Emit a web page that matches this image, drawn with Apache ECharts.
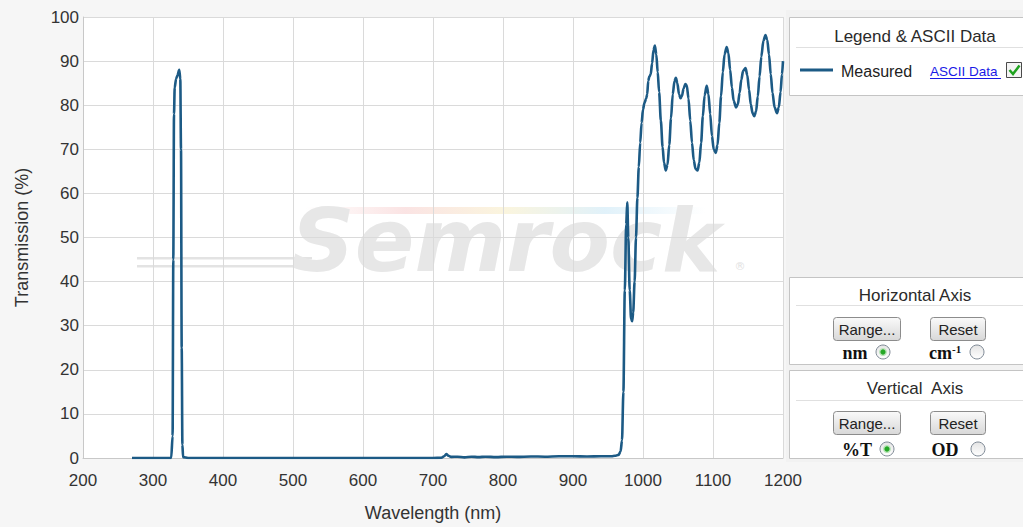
<!DOCTYPE html>
<html>
<head>
<meta charset="utf-8">
<script src="https://cdn.jsdelivr.net/npm/echarts@6/dist/echarts.min.js"></script>
<style>
html,body{margin:0;padding:0;background:#f6f6f6;}
#chart{width:1023px;height:527px;}
</style>
</head>
<body>
<div id="chart"></div>
<script>
// ---- data ----
const peakNm = [270, 300, 326, 328, 329, 330, 331, 333, 335, 337.5, 339, 340, 341, 342, 343, 350];
const peakT  = [0, 0, 0, 5, 45, 78, 84, 86, 86.8, 88, 86, 70, 25, 3, 0.2, 0];

const blockNm = [400, 500, 600, 700, 712, 716, 719, 722, 726, 735, 745, 755, 765, 775, 790, 805, 820, 840, 860, 880, 900, 920, 940, 955];
const blockT  = [0, 0, 0, 0, 0.05, 0.4, 0.9, 0.5, 0.25, 0.3, 0.15, 0.3, 0.2, 0.3, 0.2, 0.3, 0.25, 0.35, 0.3, 0.4, 0.4, 0.35, 0.4, 0.4];

const nirNm = [960, 965, 968, 970, 972, 974, 976, 977.5, 979, 981, 983, 984.5, 986, 988, 990, 992, 994, 996, 998, 1000, 1002, 1004.5, 1006, 1007.5, 1009, 1011, 1013, 1015, 1017, 1019, 1021, 1023, 1025.5, 1028, 1030, 1032.5, 1035, 1037.5, 1040, 1042.5, 1045, 1047, 1049, 1051.5, 1053.5, 1055.5, 1058, 1060.5, 1062.5, 1065, 1067.5, 1070, 1072.5, 1075, 1078, 1080.5, 1083, 1085.5, 1088, 1091, 1093.5, 1096, 1098.5, 1101, 1104, 1106.5, 1109, 1111.5, 1114, 1116.5, 1119.5, 1122, 1124.5, 1127, 1129.5, 1133, 1135.5, 1138, 1140.5, 1143, 1146.5, 1149, 1151.5, 1154, 1156.5, 1159, 1161.5, 1164, 1166.5, 1169, 1172, 1175, 1177.5, 1180, 1182.5, 1185, 1188, 1191.5, 1194, 1196.5, 1198.5, 1200];
const nirT  = [0.5, 0.7, 1.5, 4, 15, 38, 53, 58, 50, 38, 31.5, 31, 33, 40, 50, 59, 66, 71.5, 76, 79, 80.5, 81.5, 82.5, 85.5, 86.5, 87, 89.5, 92.5, 93.5, 91.5, 87.5, 83, 76.5, 70.5, 67, 65.2, 66.5, 71, 77, 82.5, 85.5, 86.2, 85, 82.5, 81.6, 82, 83.8, 84.8, 84.5, 81.5, 76.5, 71.5, 67.5, 65.6, 65.2, 67, 71.5, 77.5, 82.2, 84.4, 82.5, 78, 73, 70, 69.2, 71, 76, 82, 87.5, 91.5, 93.2, 91.8, 88, 84, 81, 79.5, 80.2, 82.8, 85.8, 87.8, 88.4, 86.8, 83.5, 80.2, 78.2, 77.5, 78.6, 82, 86.5, 91, 94.6, 95.9, 94.8, 91.5, 87, 82.8, 79.5, 78.2, 79.5, 83, 87, 90];

const xTicks = {min: 200, max: 1200, step: 100};
const yTicks = {min: 0, max: 100, step: 10};

const wavelengths = peakNm.concat(blockNm, nirNm);
const transmission = peakT.concat(blockT, nirT);
const seriesData = wavelengths.map((w, i) => [w, transmission[i]]);

const LINE = '#1c5a85';
const SANS = 'Arial, "Liberation Sans", sans-serif';
const SERIF = '"Times New Roman", "Liberation Serif", serif';

function btn(x, y, w, h, label) {
  return [
    {type: 'rect', z: 10, shape: {x: x + 0.5, y: y + 0.5, width: w, height: h, r: 3},
     style: {fill: {type: 'linear', x: 0, y: 0, x2: 0, y2: 1, colorStops: [{offset: 0, color: '#fafafa'}, {offset: 1, color: '#d8d8d8'}]}, stroke: '#8c8c8c', lineWidth: 1}},
    {type: 'text', z: 11, style: {x: x + w / 2 + 0.5, y: y + h / 2 + 1, text: label, align: 'center', verticalAlign: 'middle', font: '15px ' + SANS, fill: '#222'}}
  ];
}
function radio(cx, cy, checked) {
  const els = [{type: 'circle', z: 10, shape: {cx: cx, cy: cy, r: 7},
    style: {fill: {type: 'linear', x: 0, y: 0, x2: 0, y2: 1, colorStops: [{offset: 0, color: '#e4e4e4'}, {offset: 1, color: '#ffffff'}]}, stroke: '#7f8a96', lineWidth: 1}}];
  if (checked) {
    els.push({type: 'circle', z: 11, shape: {cx: cx, cy: cy, r: 4}, style: {fill: '#b9e4b9'}});
    els.push({type: 'circle', z: 12, shape: {cx: cx, cy: cy, r: 2.6}, style: {fill: '#26a826'}});
  }
  return els;
}
function box(y, h) {
  return {type: 'rect', z: 10, shape: {x: 789.5, y: y + 0.5, width: 250, height: h}, style: {fill: '#ffffff', stroke: '#c4c4c4', lineWidth: 1}};
}
function title(y, text) {
  return {type: 'text', z: 11, style: {x: 915, y: y, text: text, align: 'center', verticalAlign: 'middle', font: '17px ' + SANS, fill: '#2a2a2a'}};
}
function sep(y) {
  return {type: 'line', z: 11, shape: {x1: 796, y1: y + 0.5, x2: 1023, y2: y + 0.5}, style: {stroke: '#e0e0e0', lineWidth: 1}};
}

let graphics = [
  // plot background and watermark
  {type: 'rect', z: 0, z2: 0, silent: true, shape: {x: 83, y: 17, width: 700, height: 442}, style: {fill: '#ffffff'}},
  {type: 'rect', z: 0, z2: 1, silent: true, shape: {x: 137, y: 257, width: 175, height: 2.5}, style: {fill: '#e3e3e3'}},
  {type: 'rect', z: 0, z2: 1, silent: true, shape: {x: 137, y: 265, width: 170, height: 2.5}, style: {fill: '#e3e3e3'}},
  {type: 'rect', z: 0, z2: 1, silent: true, shape: {x: 305, y: 207, width: 400, height: 7},
   style: {opacity: 0.35, fill: {type: 'linear', x: 0, y: 0, x2: 1, y2: 0, colorStops: [{offset: 0, color: '#ffffff'}, {offset: 0.25, color: '#f2b0b0'}, {offset: 0.5, color: '#f2e2a0'}, {offset: 0.75, color: '#a8d8f0'}, {offset: 1, color: '#ffffff'}]}}},
  {type: 'text', z: 0, z2: 2, silent: true, style: {x: 506, y: 240, text: 'Semrock', align: 'center', verticalAlign: 'middle', font: 'italic bold 88px "DejaVu Sans", sans-serif', fill: '#e7e7e7'}},
  {type: 'text', z: 0, z2: 2, silent: true, style: {x: 740, y: 266, text: '®', align: 'center', verticalAlign: 'middle', font: '11px "DejaVu Sans", sans-serif', fill: '#e2e2e2'}},
  // right side panel
  {type: 'rect', z: 9, silent: true, shape: {x: 786, y: 10, width: 240, height: 452}, style: {fill: '#f2f2f2'}},
  box(17, 78), title(36, 'Legend & ASCII Data'), sep(47),
  {type: 'line', z: 11, shape: {x1: 800, y1: 70, x2: 833, y2: 70}, style: {stroke: LINE, lineWidth: 3}},
  {type: 'text', z: 11, style: {x: 841, y: 71, text: 'Measured', align: 'left', verticalAlign: 'middle', font: '16px ' + SANS, fill: '#222'}},
  {type: 'text', z: 11, style: {x: 930, y: 71, text: 'ASCII Data', align: 'left', verticalAlign: 'middle', font: '13.5px ' + SANS, fill: '#1a1ae6'}},
  {type: 'line', z: 11, shape: {x1: 930, y1: 78.5, x2: 1001, y2: 78.5}, style: {stroke: '#1a1ae6', lineWidth: 1}},
  {type: 'rect', z: 11, shape: {x: 1006.5, y: 62.5, width: 15, height: 15}, style: {fill: '#f4f4f4', stroke: '#4a4a4a', lineWidth: 1}},
  {type: 'polyline', z: 12, shape: {points: [[1009.5, 70], [1013, 74], [1019.5, 65.5]]}, style: {stroke: '#1fa31f', lineWidth: 2.5, fill: null}},

  box(277, 87), title(295, 'Horizontal Axis'), sep(305),
  ...btn(833, 317, 67, 23, 'Range...'), ...btn(930, 317, 55, 23, 'Reset'),
  {type: 'text', z: 11, style: {x: 855, y: 353, text: 'nm', align: 'center', verticalAlign: 'middle', font: 'bold 18px ' + SERIF, fill: '#111'}},
  ...radio(883, 352, true),
  {type: 'text', z: 11, style: {x: 929, y: 353, text: 'cm{s|-1}', align: 'left', verticalAlign: 'middle', font: 'bold 18px ' + SERIF, fill: '#111',
    rich: {s: {font: 'bold 11px ' + SERIF, fill: '#111', verticalAlign: 'top', padding: [0, 0, 8, 0]}}}},
  ...radio(977, 352, false),

  box(370, 88), title(388, 'Vertical  Axis'), sep(400),
  ...btn(833, 411, 67, 23, 'Range...'), ...btn(930, 411, 55, 23, 'Reset'),
  {type: 'text', z: 11, style: {x: 857, y: 450, text: '%T', align: 'center', verticalAlign: 'middle', font: 'bold 18px ' + SERIF, fill: '#111'}},
  ...radio(887, 449, true),
  {type: 'text', z: 11, style: {x: 945, y: 450, text: 'OD', align: 'center', verticalAlign: 'middle', font: 'bold 18px ' + SERIF, fill: '#111'}},
  ...radio(978, 449, false)
];

const chart = echarts.init(document.getElementById('chart'), null, {renderer: 'svg'});
chart.setOption({
  backgroundColor: '#f6f6f6',
  animation: false,
  graphic: graphics,
  grid: {left: 83, right: 240, top: 17, bottom: 68, containLabel: false},
  xAxis: {
    type: 'value', min: xTicks.min, max: xTicks.max, interval: xTicks.step, z: 1,
    name: 'Wavelength (nm)', nameLocation: 'middle', nameGap: 46,
    nameTextStyle: {fontSize: 18, color: '#333', fontFamily: SANS},
    axisLine: {show: true, lineStyle: {color: '#c8c8c8', width: 1}},
    axisTick: {show: false},
    axisLabel: {fontSize: 17, color: '#333', fontFamily: SANS, margin: 14, formatter: v => String(v)},
    splitLine: {show: true, lineStyle: {color: '#dadada', width: 1}}
  },
  yAxis: {
    type: 'value', min: yTicks.min, max: yTicks.max, interval: yTicks.step, z: 1,
    name: 'Transmission (%)', nameLocation: 'middle', nameGap: 52,
    nameTextStyle: {fontSize: 18, color: '#333', fontFamily: SANS},
    axisLine: {show: true, lineStyle: {color: '#c8c8c8', width: 1}},
    axisTick: {show: false},
    axisLabel: {fontSize: 17, color: '#333', fontFamily: SANS, margin: 4, formatter: v => String(v)},
    splitLine: {show: true, lineStyle: {color: '#dadada', width: 1}}
  },
  series: [{
    name: 'Measured', type: 'line', data: seriesData, z: 2,
    showSymbol: false, symbol: 'none', smooth: 0.3, smoothMonotone: 'x',
    lineStyle: {color: LINE, width: 2.6}
  }]
});
</script>
</body>
</html>
